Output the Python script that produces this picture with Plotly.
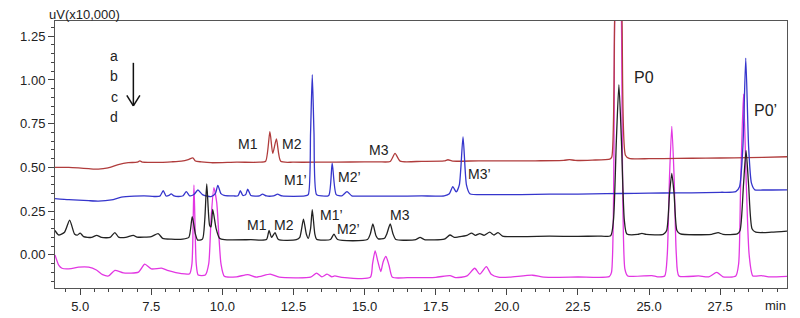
import plotly.graph_objects as go

# ---- data (time in min, signal in uV x10,000) ----
t1 = [4.115, 4.6, 4.94, 5.3, 5.64, 5.98, 6.34, 6.69, 7.0, 7.1, 7.2, 7.5, 7.86, 8.2, 8.56, 8.8, 8.96, 9.05,
      9.26, 9.6, 10.5, 11.3, 11.52, 11.67, 11.77, 11.9, 12.05, 12.5, 13.5, 14.5, 15.5, 15.9, 16.07, 16.25,
      17.0, 17.8, 17.93, 18.1, 19.0, 20.0, 21.0, 22.0, 22.2, 22.4, 23.0, 23.62, 23.69, 23.79, 23.92, 24.05,
      24.17, 24.3, 25.0, 26.0, 27.0, 28.0, 29.0, 29.85]
v1 = [0.50, 0.50, 0.497, 0.493, 0.49, 0.497, 0.516, 0.527, 0.53, 0.537, 0.53, 0.529, 0.529, 0.532, 0.536,
      0.545, 0.555, 0.537, 0.532, 0.527, 0.53, 0.53, 0.535, 0.705, 0.58, 0.663, 0.535, 0.53, 0.53, 0.531,
      0.532, 0.534, 0.58, 0.536, 0.535, 0.537, 0.544, 0.536, 0.538, 0.537, 0.538, 0.54, 0.545, 0.54, 0.542,
      0.548, 0.56, 1.34, 2.3, 1.34, 0.57, 0.552, 0.55, 0.552, 0.553, 0.555, 0.558, 0.561]

t2 = [4.115, 4.6, 4.94, 5.3, 5.64, 6.1, 6.45, 6.9, 7.25, 7.6, 7.8, 7.92, 8.02, 8.12, 8.2, 8.3, 8.45, 8.62,
      8.73, 8.85, 9.0, 9.14, 9.3, 9.6, 9.75, 9.84, 9.95, 10.06, 10.4, 10.55, 10.63, 10.72, 10.82, 10.89,
      11.0, 11.3, 11.41, 11.55, 11.8, 11.94, 12.1, 12.9, 13.02, 13.1, 13.16, 13.22, 13.31, 13.5, 13.74,
      13.86, 14.0, 14.2, 14.38, 14.55, 15.0, 16.0, 17.0, 17.8, 17.98, 18.1, 18.22, 18.33, 18.46, 18.58,
      18.7, 19.5, 20.5, 21.5, 22.5, 23.5, 24.5, 25.5, 26.5, 27.5, 28.05, 28.18, 28.3, 28.4, 28.5, 28.6,
      28.72, 29.0, 29.85]
v2 = [0.322, 0.316, 0.313, 0.31, 0.308, 0.315, 0.33, 0.336, 0.338, 0.334, 0.336, 0.367, 0.337, 0.34,
      0.349, 0.338, 0.334, 0.338, 0.362, 0.338, 0.345, 0.371, 0.345, 0.333, 0.35, 0.398, 0.35, 0.34,
      0.337, 0.338, 0.367, 0.34, 0.345, 0.376, 0.34, 0.337, 0.347, 0.337, 0.338, 0.347, 0.337, 0.337,
      0.345, 0.7, 1.03, 0.7, 0.345, 0.337, 0.34, 0.525, 0.345, 0.338, 0.362, 0.338, 0.336, 0.336, 0.337,
      0.338, 0.35, 0.39, 0.36, 0.4, 0.675, 0.4, 0.35, 0.345, 0.345, 0.347, 0.348, 0.35, 0.352, 0.354,
      0.355, 0.358, 0.362, 0.39, 0.62, 1.125, 0.62, 0.41, 0.372, 0.371, 0.372]

t3 = [4.115, 4.24, 4.45, 4.63, 4.8, 4.9, 5.0, 5.12, 5.4, 5.58, 5.75, 6.05, 6.22, 6.35, 6.6, 6.87, 7.0, 7.5,
      7.74, 7.9, 8.2, 8.6, 8.82, 8.94, 9.05, 9.13, 9.3, 9.38, 9.45, 9.55, 9.6, 9.66, 9.78, 9.9, 10.07,
      11.0, 11.55, 11.64, 11.73, 11.85, 11.97, 12.6, 12.72, 12.85, 12.95, 13.02, 13.1, 13.16, 13.25,
      13.31, 13.8, 13.92, 14.05, 15.1, 15.2, 15.29, 15.4, 15.48, 15.7, 15.78, 15.9, 16.0, 16.1, 16.8,
      16.95, 17.1, 17.8, 18.0, 18.15, 18.3, 18.6, 18.76, 18.9, 19.05, 19.2, 19.4, 19.55, 19.69, 19.85,
      20.5, 21.5, 22.5, 23.2, 23.65, 23.75, 23.85, 23.94, 24.03, 24.13, 24.22, 24.6, 24.75, 24.9, 25.5,
      25.62, 25.72, 25.8, 25.88, 25.98, 26.1, 27.2, 27.43, 27.6, 28.1, 28.2, 28.32, 28.41, 28.5, 28.62,
      28.75, 29.3, 29.85]
v3 = [0.14, 0.114, 0.13, 0.199, 0.12, 0.113, 0.125, 0.105, 0.1, 0.112, 0.1, 0.1, 0.128, 0.102, 0.1, 0.112,
      0.102, 0.105, 0.122, 0.095, 0.09, 0.09, 0.1, 0.219, 0.12, 0.085, 0.09, 0.2, 0.406, 0.17, 0.16, 0.26,
      0.15, 0.095, 0.087, 0.087, 0.088, 0.14, 0.1, 0.127, 0.088, 0.087, 0.1, 0.204, 0.12, 0.095, 0.15,
      0.259, 0.12, 0.09, 0.088, 0.119, 0.088, 0.088, 0.12, 0.177, 0.11, 0.092, 0.095, 0.12, 0.177, 0.12,
      0.088, 0.088, 0.1, 0.088, 0.09, 0.114, 0.1, 0.103, 0.112, 0.125, 0.112, 0.122, 0.112, 0.13, 0.114,
      0.128, 0.108, 0.105, 0.107, 0.106, 0.108, 0.11, 0.2, 0.65, 0.973, 0.65, 0.2, 0.12, 0.117, 0.123,
      0.117, 0.118, 0.14, 0.35, 0.466, 0.35, 0.14, 0.12, 0.118, 0.127, 0.118, 0.12, 0.14, 0.4, 0.597,
      0.4, 0.15, 0.13, 0.13, 0.136]

t4 = [4.115, 4.25, 4.36, 4.68, 4.94, 5.3, 5.57, 5.79, 6.0, 6.22, 6.52, 7.05, 7.27, 7.5, 7.86, 8.1, 8.56,
      8.85, 8.93, 9.0, 9.08, 9.15, 9.4, 9.52, 9.6, 9.7, 9.8, 9.88, 9.95, 10.07, 10.5, 10.89, 11.2, 11.68,
      12.0, 13.1, 13.31, 13.5, 13.68, 13.85, 13.95, 14.2, 15.2, 15.28, 15.37, 15.47, 15.57, 15.65, 15.75,
      15.86, 15.98, 16.5, 17.5, 18.0, 18.2, 18.6, 18.87, 19.05, 19.28, 19.45, 19.7, 20.1, 20.9, 21.3,
      22.5, 23.6, 23.68, 23.79, 23.91, 24.03, 24.15, 24.25, 25.1, 25.3, 25.55, 25.64, 25.72, 25.8, 25.88,
      25.96, 26.05, 26.74, 27.1, 27.38, 27.6, 28.05, 28.15, 28.22, 28.32, 28.42, 28.52, 28.65, 28.95,
      29.2, 29.85]
v4 = [0.0, -0.06, -0.076, -0.078, -0.07, -0.07, -0.086, -0.113, -0.12, -0.088, -0.103, -0.098, -0.053,
      -0.08, -0.076, -0.09, -0.107, -0.107, -0.05, 0.4, -0.05, -0.115, -0.115, -0.05, 0.2, 0.385, 0.3,
      0.1, -0.05, -0.122, -0.125, -0.112, -0.127, -0.11, -0.127, -0.127, -0.104, -0.125, -0.11, -0.125,
      -0.12, -0.128, -0.128, -0.05, 0.023, -0.04, -0.095, -0.04, -0.009, -0.06, -0.128, -0.13, -0.128,
      -0.118, -0.13, -0.12, -0.076, -0.11, -0.067, -0.11, -0.127, -0.127, -0.116, -0.127, -0.126, -0.124,
      -0.1, 1.34, 2.6, 1.34, -0.08, -0.12, -0.118, -0.125, -0.12, 0.0, 0.45, 0.735, 0.45, 0.0, -0.12,
      -0.12, -0.125, -0.1, -0.125, -0.12, -0.05, 0.4, 0.92, 0.4, 0.0, -0.12, -0.118, -0.125, -0.122]

trace_names = ["1", "2", "3", "4"]
trace_colors = ["#b03c3c", "#3535cc", "#222222", "#e236e2"]

peak_labels = ["M1", "M2", "M3", "M1’", "M2’", "M3’", "M1", "M2", "M1’", "M2’", "M3", "P0", "P0’"]
peak_label_t = [10.9, 12.44, 15.52, 12.58, 14.47, 19.05, 11.21, 12.16, 13.84, 14.43, 16.25, 24.81, 29.11]
peak_label_v = [0.632, 0.632, 0.60, 0.431, 0.447, 0.464, 0.17, 0.17, 0.23, 0.148, 0.23, 1.012, 0.828]
peak_label_size = [14, 14, 14, 14, 14, 14, 14, 14, 14, 14, 14, 16, 16]

sample_labels = ["a", "b", "c", "d"]
sample_label_v = [1.137, 1.023, 0.903, 0.789]
trace_label_v = [0.551, 0.366, 0.143, -0.123]

FONT = "Liberation Sans, Arial, sans-serif"

fig = go.Figure()
series = [(t1, v1), (t2, v2), (t3, v3), (t4, v4)]
for idx in [3, 0, 1, 2]:
    tx, vy = series[idx]
    fig.add_trace(go.Scatter(x=tx, y=vy, mode="lines", name=trace_names[idx],
                             line=dict(color=trace_colors[idx], width=1.3, shape="spline",
                                       smoothing=0.6),
                             showlegend=False, hoverinfo="skip"))

ann = []
for txt, tx, vy, sz in zip(peak_labels, peak_label_t, peak_label_v, peak_label_size):
    ann.append(dict(x=tx, y=vy, xref="x", yref="y", text=txt, showarrow=False,
                    font=dict(family=FONT, size=sz, color="#222")))
for txt, vy in zip(sample_labels, sample_label_v):
    ann.append(dict(x=6.19, y=vy, xref="x", yref="y", text=txt, showarrow=False,
                    font=dict(family=FONT, size=14, color="#222")))
for txt, vy in zip(trace_names, trace_label_v):
    ann.append(dict(x=1, y=vy, xref="paper", yref="y", text=txt, showarrow=False, xanchor="left",
                    xshift=3, font=dict(family=FONT, size=13, color="#222")))
ann.append(dict(x=1, y=0, xref="paper", yref="paper", text="min", showarrow=False, xanchor="right",
                yanchor="middle", xshift=1, yshift=-17, font=dict(family=FONT, size=13, color="#222")))
ann.append(dict(x=0, y=1, xref="paper", yref="paper", text="uV(x10,000)", showarrow=False,
                xanchor="left", yanchor="middle", xshift=-8, yshift=7,
                font=dict(family=FONT, size=13, color="#222")))

shapes = [
    dict(type="line", xref="x", yref="y", x0=6.87, x1=6.87, y0=1.098, y1=0.853,
         line=dict(color="#111", width=1.5)),
    dict(type="line", xref="x", yref="y", x0=6.64, x1=6.87, y0=0.912, y1=0.852,
         line=dict(color="#111", width=1.5)),
    dict(type="line", xref="x", yref="y", x0=7.10, x1=6.87, y0=0.912, y1=0.852,
         line=dict(color="#111", width=1.5)),
]

fig.update_layout(
    width=800, height=318,
    margin=dict(l=43, r=21, t=13, b=24),
    paper_bgcolor="white", plot_bgcolor="white",
    annotations=ann, shapes=shapes,
    font=dict(family=FONT, size=13, color="#222"),
)
fig.update_xaxes(range=[4.115, 29.85], tick0=0, dtick=2.5, tickformat=".1f", ticks="outside",
                 ticklen=6, tickcolor="#444", showline=True, linecolor="#555", linewidth=1,
                 mirror=True, showgrid=False, zeroline=False,
                 minor=dict(dtick=0.5, ticks="outside", ticklen=3, tickcolor="#444"),
                 tickfont=dict(family=FONT, size=13, color="#222"))
fig.update_yaxes(range=[-0.189, 1.337], tick0=0, dtick=0.25, tickformat=".2f", ticks="outside",
                 ticklen=6, tickcolor="#444", showline=True, linecolor="#555", linewidth=1,
                 mirror=True, showgrid=False, zeroline=False,
                 minor=dict(dtick=0.05, ticks="outside", ticklen=3, tickcolor="#444"),
                 tickfont=dict(family=FONT, size=13, color="#222"))

fig.write_html("out.html")
